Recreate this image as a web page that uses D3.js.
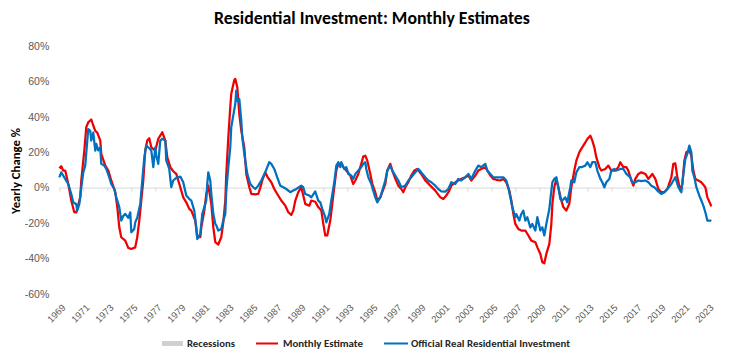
<!DOCTYPE html>
<html>
<head>
<meta charset="utf-8">
<script src="https://cdn.jsdelivr.net/npm/d3@7/dist/d3.min.js"></script>
<style>
  html, body { margin: 0; padding: 0; background: #fff; }
  svg { display: block; font-family: Carlito, Lato, "Open Sans", sans-serif; }
</style>
</head>
<body>
<svg id="chart" width="744" height="360"></svg>
<script>
// ---- data (month offset from START, yearly change %) ----
const START = [1969, 0]; // January 1969
const END_MONTH = 652;
const titleText = "Residential Investment: Monthly Estimates";
const yAxisTitle = "Yearly Change %";
const yTicks = [-60, -40, -20, 0, 20, 40, 60, 80];
const xTickLabels = ["1969","1971","1973","1975","1977","1979","1981","1983","1985","1987","1989","1991","1993","1995","1997","1999","2001","2003","2005","2007","2009","2011","2013","2015","2017","2019","2021","2023"];
const legendLabels = ["Recessions", "Monthly Estimate", "Official Real Residential Investment"];

const monthlyEstimate = [[0,11],[2,12],[4,9.6],[6,9.6],[9,2],[12,-7.3],[15,-13.9],[17,-14],[21,-5.5],[22,4],[25,20.9],[27,34],[29,36.8],[32,38.4],[34,35],[36,32],[38,31],[41,26.5],[42,19],[46,12.4],[49,9.6],[52,4],[56,-2.6],[58,-11],[60,-22.4],[62,-28],[66,-29.9],[69,-34],[72,-34.6],[76,-33.7],[78,-28],[80,-18.6],[82,-7.3],[84,4],[86,20.9],[88,26.5],[90,27.8],[92,22.7],[96,20.9],[99,27.5],[103,31.2],[106,26.5],[108,17],[111,11.5],[114,9.2],[117,7.7],[121,0.2],[124,-5.5],[127,-8.3],[130,-12],[132,-13],[136,-18.6],[138,-28],[141,-28],[142,-22.4],[145,-13],[147,-3.6],[149,1.1],[152,-9.2],[154,-22.4],[156,-30.8],[159,-32.1],[162,-28],[164,-19.6],[166,-7.3],[167,7.7],[169,28.4],[171,45.3],[172,52.8],[175,60.7],[176,61.3],[178,56.6],[180,41.6],[182,32.1],[185,22.7],[187,7.7],[190,0.2],[192,-3.6],[196,-3.8],[199,-3.6],[201,0],[203,4],[206,8.6],[208,6.2],[212,3],[215,-0.8],[218,-3.6],[222,-7.3],[226,-10.2],[229,-13.9],[232,-15.4],[234,-13],[236,-7.3],[239,-2.6],[242,0.2],[244,-4.5],[246,-9.2],[250,-10.2],[252,-7.3],[256,-8],[259,-11],[262,-13],[264,-20.5],[266,-27],[268,-27],[271,-18.6],[273,-9.2],[275,0.2],[277,9.6],[279,13.4],[282,13.4],[284,11.5],[287,9.6],[291,6.8],[294,2],[296,4],[299,7.7],[302,13.4],[304,17.5],[306,18],[308,15.2],[311,7.7],[313,2],[316,-2.6],[318,-7.3],[321,-5.5],[323,-2.6],[326,2],[328,9.6],[331,13.4],[333,9.6],[336,4.9],[339,1.1],[342,-0.8],[344,-2.6],[346,0.2],[349,3],[352,6.8],[355,9.6],[358,10.5],[362,7.7],[366,4],[371,1.1],[376,-1.7],[381,-5.5],[384,-6.4],[387,-4.5],[390,-1.7],[392,1.1],[396,3],[399,4],[402,4.9],[406,5.8],[409,6.8],[412,4],[416,6.8],[419,9.6],[422,10.5],[426,11.5],[428,9.6],[431,6.8],[434,4.9],[437,4.4],[441,4],[444,4.9],[447,3],[450,-1.7],[452,-7.3],[454,-14.8],[456,-20.5],[459,-23.3],[462,-24.2],[466,-24.2],[469,-27],[472,-29.9],[476,-30.8],[478,-33.7],[481,-37.4],[483,-42.1],[485,-42.7],[487,-37.4],[490,-31.7],[492,-20.5],[493,-9.2],[495,0.2],[497,4.9],[499,0.2],[502,-7.3],[504,-11],[507,-13],[510,-9.2],[512,0.2],[515,9.6],[517,15.2],[520,19.9],[522,21.8],[526,25.5],[528,27.4],[531,29.3],[533,26.5],[535,22.7],[537,17],[540,11.5],[542,9.6],[546,10.5],[549,12.4],[552,9.6],[556,9.6],[559,11.5],[561,14.3],[564,11.5],[567,11.5],[569,9.6],[572,4],[574,1.1],[576,4.9],[579,7.7],[582,8.6],[586,7.7],[589,4.9],[593,7.7],[596,4.9],[599,-0.8],[602,-2.6],[605,-2.6],[608,-0.8],[612,5.8],[614,13.4],[616,13.7],[618,5.8],[621,-1.7],[623,2],[625,15.2],[627,19.9],[630,21],[632,18],[634,9.6],[636,4.9],[639,4],[642,3],[646,0.2],[648,-5.5],[651,-9.2],[652,-10.6]];

const officialInvestment = [[0,5.8],[2,8.6],[5,5.8],[9,2],[12,-3.6],[14,-8.3],[17,-9.4],[18,-13],[20,-9.4],[22,0],[24,8.6],[26,12.4],[29,33],[31,32],[32,26.5],[34,31],[36,20.9],[37,24.6],[39,20.9],[41,22.7],[42,13.4],[45,12.4],[47,10.5],[50,5.8],[52,2],[55,-0.8],[57,-5.5],[60,-11],[62,-18.6],[64,-16],[66,-14.8],[69,-17],[71,-14],[72,-25.2],[75,-23.3],[76,-19.6],[78,-17],[81,-9.2],[83,4],[85,17],[87,23.7],[89,22.7],[92,20.9],[94,11.5],[96,22.7],[97,18],[99,13.4],[101,26.5],[103,27.5],[106,26.5],[107,15.2],[110,10.5],[112,0.2],[114,4],[117,5.5],[121,6.2],[124,3],[127,-4.5],[130,-6.4],[132,-7.3],[135,-13],[137,-22.4],[138,-29],[141,-26],[143,-14.8],[145,-11],[147,-7.3],[148,2],[149,8.6],[151,4],[152,-3.6],[154,-14.8],[156,-20.5],[157,-21.3],[159,-24.2],[162,-23.3],[164,-18.6],[166,-14.8],[167,-1.7],[169,11.5],[171,22.7],[172,34],[174,40.6],[176,47.2],[177,54.7],[178,49],[180,50],[182,37.8],[183,28.4],[185,19],[186,15.2],[188,7.7],[191,2],[194,0.2],[196,-0.8],[199,1.1],[202,4],[206,8.6],[208,11.5],[210,14.3],[212,13.4],[215,10.5],[218,5.8],[221,1.1],[224,0.2],[227,-0.8],[231,-2.6],[234,-1.7],[237,-0.8],[242,1.1],[244,0.2],[246,-3.6],[250,-4.5],[252,-5.5],[256,-2.2],[259,-7.3],[261,-8.3],[263,-12],[266,-16.7],[267,-19.6],[270,-15],[272,-7.3],[275,3],[277,12.4],[279,14.3],[281,11.5],[282,14.3],[285,10.5],[287,11.5],[289,7.7],[292,6.8],[294,4.9],[296,7.7],[299,9.6],[302,11.5],[304,13.4],[306,14.3],[307,10.5],[309,5.8],[312,2],[314,-1.7],[316,-5.5],[318,-8.3],[321,-5.5],[323,-1.7],[326,4],[328,9.6],[331,12.4],[333,9.6],[336,6.8],[339,4],[342,0.2],[346,1.1],[349,4],[352,5.8],[356,8.6],[359,10.5],[362,8.6],[366,5.8],[369,4],[372,3],[376,1.1],[379,-0.8],[382,-2.1],[386,-2.3],[389,-0.8],[392,3],[396,2],[399,4.9],[402,4],[406,5.8],[409,7.7],[412,4.9],[416,9.6],[419,12.4],[422,11.5],[426,13.4],[428,9.6],[431,7.7],[434,5.8],[437,5.8],[441,5.8],[444,5.8],[447,4],[449,0.2],[451,-5.5],[453,-11],[456,-16.7],[457,-15],[460,-18.6],[462,-15],[464,-13],[466,-18.6],[468,-16.7],[471,-22.4],[473,-20.5],[476,-24.2],[478,-16.7],[481,-24.2],[483,-22.4],[485,-27],[487,-20.5],[490,-12],[492,-1.7],[493,3],[495,4.9],[497,5.8],[499,0.2],[501,-6.4],[503,-7.3],[506,-5.5],[508,-8.3],[511,0.2],[512,4],[515,3],[517,8.6],[520,11.5],[522,11.5],[526,12.4],[528,14.3],[531,11.5],[533,14.3],[536,14.3],[538,9.6],[541,4.9],[543,3],[545,0.2],[547,3],[550,4.9],[552,9.6],[555,10.5],[557,9.6],[561,10.5],[564,10.5],[567,7.7],[571,5.8],[573,3],[576,3],[579,4],[582,3.6],[586,4],[589,3],[592,1.1],[595,0.2],[598,-1.7],[602,-3.6],[605,-2.6],[608,-0.8],[612,2],[616,5.8],[619,0.2],[622,-2.6],[624,7.7],[626,16.1],[628,19],[630,23.7],[632,19.9],[633,9.6],[635,5.8],[637,0.2],[640,-4.5],[642,-7.3],[644,-10.2],[646,-13.9],[648,-18.6],[651,-18.6],[652,-18.9]];

// ---- drawing ----
const svg = d3.select("#chart");
const W = 744, H = 360;
const toDate = m => new Date(START[0], START[1] + m, 1);

const x = d3.scaleTime()
  .domain([toDate(0), toDate(END_MONTH)])
  .range([59.3, 59.3 + END_MONTH]);
const y = d3.scaleLinear().domain([-60, 80]).range([294, 45.7]);

svg.append("rect").attr("width", W).attr("height", H).attr("fill", "#fff");

function fitWidth(sel, w) {
  const node = sel.node();
  const cur = node.getComputedTextLength();
  if (cur > 0) {
    const fs = parseFloat(sel.attr("font-size"));
    sel.attr("font-size", (fs * w / cur).toFixed(2));
  }
}

// Title
const title = svg.append("text")
  .attr("x", 372).attr("y", 24)
  .attr("text-anchor", "middle")
  .attr("font-size", 16).attr("font-weight", "bold").attr("fill", "#000")
  .text(titleText);
fitWidth(title, 316);

// Y axis labels
const yAxis = svg.append("g")
  .attr("transform", "translate(59.3,0)")
  .call(d3.axisLeft(y).tickValues(yTicks).tickSize(0).tickPadding(10).tickFormat(d => d + "%"));
yAxis.select(".domain").remove();
yAxis.selectAll("text").attr("font-family", null).attr("font-size", 10.5).attr("fill", "#595959");

// Y title
const yt = svg.append("text")
  .attr("transform", "translate(20,171) rotate(-90)")
  .attr("text-anchor", "middle")
  .attr("font-size", 11).attr("font-weight", "bold").attr("fill", "#000")
  .text(yAxisTitle);
fitWidth(yt, 86);

// Zero axis line with ticks
const tickDates = xTickLabels.map(s => new Date(+s, 0, 1));
const zeroAxis = svg.append("g")
  .attr("transform", `translate(0,${y(0)})`)
  .call(d3.axisBottom(x).tickValues(tickDates).tickSize(4).tickSizeOuter(0).tickFormat(""));
zeroAxis.select(".domain").attr("stroke", "#d9d9d9");
zeroAxis.selectAll(".tick line").attr("stroke", "#d9d9d9");

// X labels (rotated)
const xLab = svg.append("g")
  .attr("transform", "translate(0,306)")
  .call(d3.axisBottom(x).tickValues(tickDates).tickSize(0).tickFormat(d3.timeFormat("%Y")));
xLab.select(".domain").remove();
xLab.selectAll("text")
  .attr("font-family", null)
  .attr("font-size", 9.5).attr("fill", "#595959")
  .attr("x", 0).attr("y", 0).attr("dy", "0.35em")
  .attr("text-anchor", "end")
  .attr("transform", "translate(4,0) rotate(-45)");

// Lines
const line = d3.line()
  .x(d => x(toDate(d[0])))
  .y(d => y(d[1]));

svg.append("path").datum(monthlyEstimate)
  .attr("d", line).attr("fill", "none")
  .attr("stroke", "#f00000").attr("stroke-width", 2.25).attr("stroke-linejoin", "round");
svg.append("path").datum(officialInvestment)
  .attr("d", line).attr("fill", "none")
  .attr("stroke", "#0070c0").attr("stroke-width", 2.25).attr("stroke-linejoin", "round");

// Legend
const lg = svg.append("g");
lg.append("rect").attr("x", 162).attr("y", 341).attr("width", 21).attr("height", 5).attr("fill", "#d0d0d0");
const t1 = lg.append("text").attr("x", 187).attr("y", 346.5).attr("font-size", 10).attr("font-weight", "bold").attr("fill", "#262626").text(legendLabels[0]);
fitWidth(t1, 48);
lg.append("line").attr("x1", 256).attr("x2", 278).attr("y1", 343.5).attr("y2", 343.5).attr("stroke", "#f00000").attr("stroke-width", 2);
const t2 = lg.append("text").attr("x", 283).attr("y", 346.5).attr("font-size", 10).attr("font-weight", "bold").attr("fill", "#262626").text(legendLabels[1]);
fitWidth(t2, 80);
lg.append("line").attr("x1", 384).attr("x2", 408).attr("y1", 343.5).attr("y2", 343.5).attr("stroke", "#0070c0").attr("stroke-width", 2);
const t3 = lg.append("text").attr("x", 411).attr("y", 346.5).attr("font-size", 10).attr("font-weight", "bold").attr("fill", "#262626").text(legendLabels[2]);
fitWidth(t3, 159);
</script>
</body>
</html>
